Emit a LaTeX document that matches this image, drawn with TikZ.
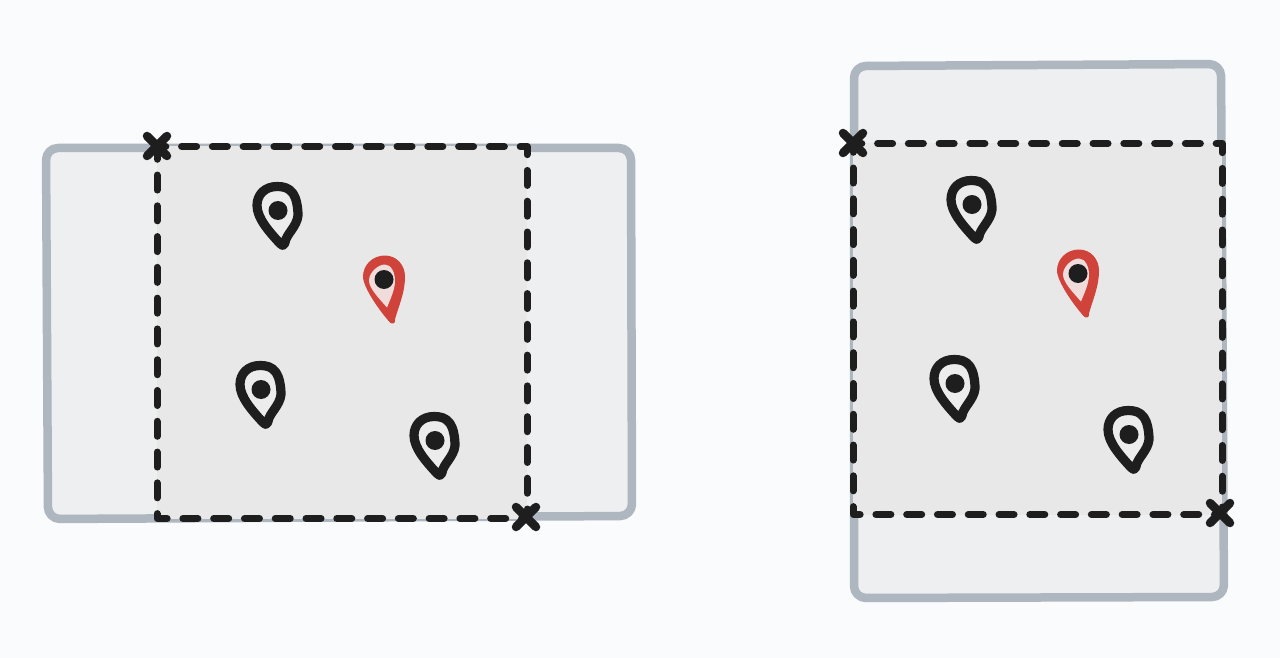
\documentclass[tikz,border=0pt]{standalone}
\usepackage{xcolor}
\definecolor{pagebg}{HTML}{F9FBFD}
\definecolor{framefill}{HTML}{EDEFF1}
\definecolor{frameline}{HTML}{AEB6BF}
\definecolor{cropfill}{HTML}{E8E8E8}
\definecolor{pinfill}{HTML}{ECECEC}
\definecolor{inkblack}{HTML}{1E1E1E}
\definecolor{pinred}{HTML}{D0433A}
\definecolor{pinblush}{HTML}{F0DCDB}
\tikzset{
    frame/.style={line width=8.5pt, draw=frameline, fill=framefill, rounded corners=12pt},
    crop/.style={line width=7pt, draw=inkblack, dash pattern=on 15pt off 15.78pt, dash phase=6.2pt},
    cropfillin/.style={fill=cropfill},
    corner/.style={line width=8.5pt, draw=inkblack},
    pinblack/.pic={
        \draw[line width=9.2pt, draw=inkblack, fill=pinfill] (-1,-24) .. controls (-13,-24) and (-21,-16) .. (-21,-5)
            .. controls (-21,8) and (-8,22) .. (2,33)
            .. controls (3,35) and (6,36) .. (7,32)
            .. controls (8,24) and (19,16) .. (20,5)
            .. controls (20,-4) and (18,-13) .. (15,-17)
            .. controls (11,-23) and (5,-24) .. (-1,-24) -- cycle;
        \fill[inkblack] (0,0) circle (9.5pt);
    },
    pinredone/.pic={
        \fill[pinred] (1,-24) .. controls (-12,-24) and (-21,-14) .. (-21,-3)
            .. controls (-21,8) and (-4,32) .. (6,43)
            .. controls (8,45) and (12,44) .. (11,40)
            .. controls (14,28) and (21,14) .. (21,-3)
            .. controls (21,-14) and (13,-24) .. (1,-24) -- cycle;
        \fill[pinblush] (1,-15) .. controls (-6,-15) and (-15,-7) .. (-15,1)
            .. controls (-15,9) and (-4,20) .. (3,28)
            .. controls (7,18) and (11,10) .. (11,1)
            .. controls (11,-7) and (7,-15) .. (1,-15) -- cycle;
        \fill[inkblack] (0,0) circle (9.5pt);
    }
}
\begin{document}
\begin{tikzpicture}[x=1pt, y=-1pt, line cap=round, line join=round]

\fill[pagebg] (0,0) rectangle (1280,658);
\useasboundingbox (0,0) rectangle (1280,658);

% left view
\draw[frame] (46,148) -- (631,148) -- (632,516) -- (48,519) -- cycle;
\fill[cropfillin] (157,146.5) rectangle (527,518.5);

% right view
\draw[frame] (854,66) -- (1221,64) -- (1224,597) -- (854,598) -- cycle;
\fill[cropfillin] (853,143.5) rectangle (1222,514.5);

% dashed crop
\draw[crop] (157,146.5) -- (527,146.5) -- (527,518.5) -- (157,518.5) -- cycle;
\draw[crop] (853,143.5) -- (1222,143.5) -- (1222,514.5) -- (853,514.5) -- cycle;

% pins
\foreach \dx/\dy in {0/0.5, 694/-5.5} {
    \begin{scope}[shift={(\dx,\dy)}]
        \path (278,210) pic {pinblack};
        \path (384,279) pic {pinredone};
        \path (261,389) pic {pinblack};
        \path (435,440) pic {pinblack};
    \end{scope}
}

% crop corners
\foreach \cx/\cy in {157/146, 526/517, 853/143, 1220/513} {
    \draw[corner] (\cx-10,\cy-10) -- (\cx+10,\cy+10);
    \draw[corner] (\cx+10,\cy-10) -- (\cx-10,\cy+10);
}

\end{tikzpicture}
\end{document}
